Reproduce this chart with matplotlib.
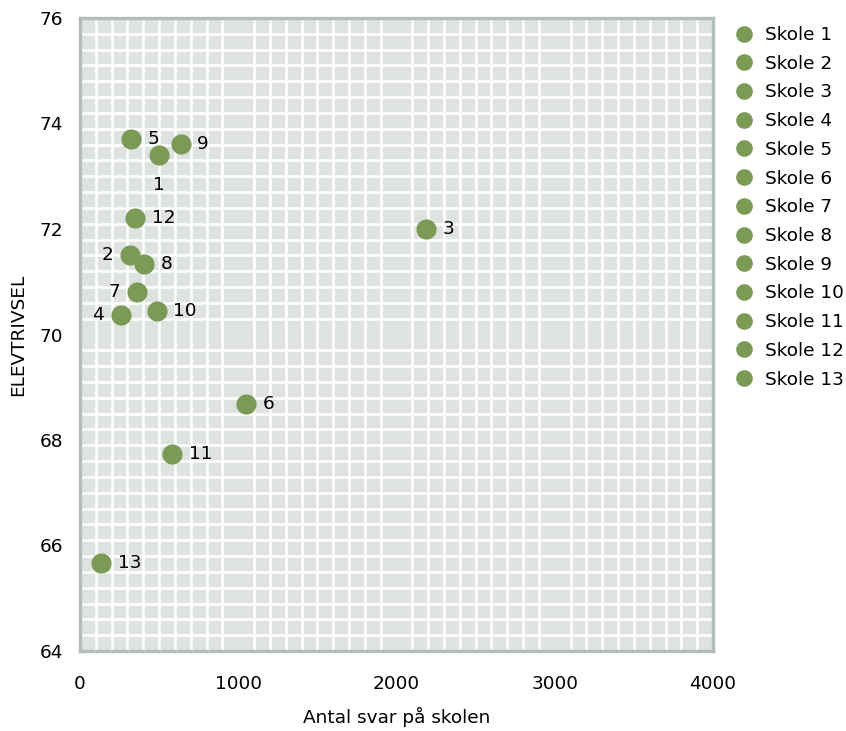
import numpy as np
import matplotlib.pyplot as plt
from matplotlib.lines import Line2D
from matplotlib.ticker import MultipleLocator, FixedLocator

# Antal svar / elevtrivsel per skole
skoler = ['1', '2', '3', '4', '5', '6', '7', '8', '9', '10', '11', '12', '13']
antal_svar = [499, 314, 2187, 257, 320, 1049, 358, 407, 636, 485, 581, 348, 133]
trivsel = [73.40, 71.51, 72.0, 70.37, 73.71, 68.68, 70.80, 71.33, 73.61, 70.45, 67.73, 72.20, 65.67]
# label position for each point
placering = ['below', 'left', 'right', 'left', 'right', 'right', 'left',
             'right', 'right', 'right', 'right', 'right', 'right']

green = '#7A9A56'
bg = '#DEE3E0'
border = '#B5BDB8'
fs = 13.3

plt.rcParams['font.family'] = ['DejaVu Sans']

fig = plt.figure(figsize=(8.46, 7.31), dpi=100)
ax = fig.add_axes([80 / 846, 1 - 651 / 731, 633 / 846, 633 / 731])
ax.set_facecolor(bg)

for i, nr in enumerate(skoler):
    ax.scatter(antal_svar[i], trivsel[i], s=210, color=green, zorder=3,
               label='Skole ' + nr, linewidths=0)
    p = placering[i]
    if p == 'right':
        off, ha, va = (12, 0), 'left', 'center'
    elif p == 'left':
        off, ha, va = (-12, 0), 'right', 'center'
    else:
        off, ha, va = (0, -15), 'center', 'top'
    ax.annotate(nr, (antal_svar[i], trivsel[i]), xytext=off, textcoords='offset points',
                ha=ha, va=va, fontsize=fs, color='black', zorder=4)

ax.set_xlim(0, 4000)
ax.set_ylim(64, 76)
ax.xaxis.set_major_locator(MultipleLocator(1000))
ax.yaxis.set_major_locator(MultipleLocator(2))
ax.xaxis.set_minor_locator(MultipleLocator(100))
ax.yaxis.set_minor_locator(FixedLocator(np.linspace(64, 76, 41)))
ax.grid(which='minor', color='white', linewidth=1.9, zorder=1)
ax.grid(which='major', visible=False)
ax.set_axisbelow(True)
ax.tick_params(which='both', length=0, labelsize=fs, colors='black')
ax.tick_params(axis='x', pad=17)
ax.tick_params(axis='y', pad=12)

for s in ax.spines.values():
    s.set_color(border)
    s.set_linewidth(2.4)

ax.set_xlabel('Antal svar på skolen', fontsize=fs, labelpad=10)
ax.set_ylabel('ELEVTRIVSEL', fontsize=fs, labelpad=9)

handles = [Line2D([], [], marker='o', linestyle='none', markersize=12,
                  markerfacecolor=green, markeredgewidth=0) for _ in skoler]
fig.legend(handles, ['Skole ' + n for n in skoler], loc='upper left',
           bbox_to_anchor=(734 / 846, 1 - 26 / 731), frameon=False,
           fontsize=fs, labelspacing=0.58, handletextpad=0.6,
           handlelength=1.1, borderaxespad=0, borderpad=0)

fig.savefig('out.png', dpi=100)
